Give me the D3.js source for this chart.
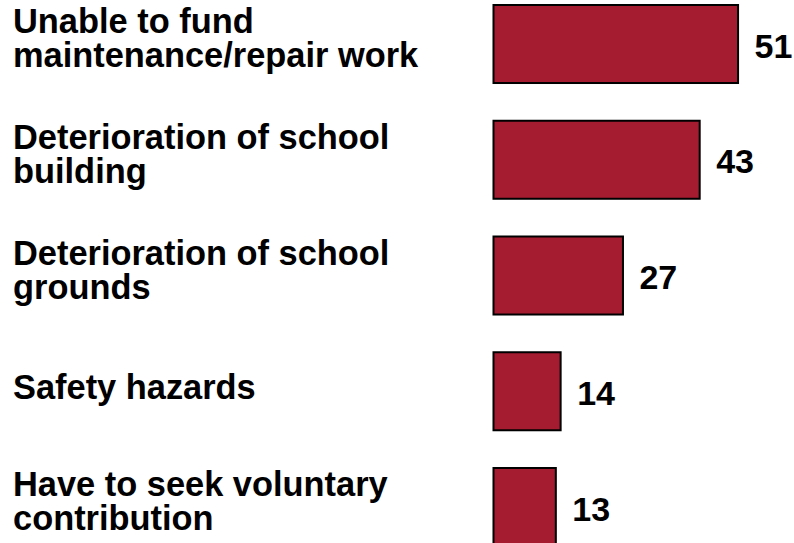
<!DOCTYPE html>
<html>
<head>
<meta charset="utf-8">
<script src="https://cdn.jsdelivr.net/npm/d3@7"></script>
<style>
  html, body { margin: 0; padding: 0; background: #fff; }
  svg { display: block; }
  text { font-family: "Liberation Sans", Arial, sans-serif; font-weight: bold; fill: #000; }
</style>
</head>
<body>
<script>
const categories = [
  ["Unable to fund", "maintenance/repair work"],
  ["Deterioration of school", "building"],
  ["Deterioration of school", "grounds"],
  ["Safety hazards"],
  ["Have to seek voluntary", "contribution"]
];
const values = [51, 43, 27, 14, 13];

const W = 794, H = 543;
const svg = d3.select("body").append("svg").attr("width", W).attr("height", H);

const keys = categories.map((c, i) => i);
const step = 115.75;
const y = d3.scaleBand().domain(keys)
  .range([5 - step * 0.163, 5 - step * 0.163 + step * 5])
  .paddingInner(0.326).paddingOuter(0.163);

const x = d3.scaleLinear().domain([0, 60]).range([493.5, 781.2]);

const g = svg.append("g");

g.selectAll("rect.bar").data(values).join("rect")
  .attr("class", "bar")
  .attr("x", x(0))
  .attr("y", (d, i) => y(i))
  .attr("width", d => x(d) - x(0))
  .attr("height", y.bandwidth())
  .attr("fill", "#a51b30")
  .attr("stroke", "#000")
  .attr("stroke-width", 2);

g.selectAll("text.val").data(values).join("text")
  .attr("class", "val")
  .attr("x", d => x(d) + 16.5)
  .attr("y", (d, i) => y(i) + y.bandwidth() / 2 + 13.5)
  .attr("font-size", 34)
  .text(d => d);

// label lines as separate text elements
const labelLines = [];
categories.forEach((lines, i) => {
  const c = y(i) + y.bandwidth() / 2;
  if (lines.length === 1) {
    labelLines.push({ t: lines[0], y: c + 8 });
  } else {
    labelLines.push({ t: lines[0], y: c - 11 });
    labelLines.push({ t: lines[1], y: c + 23 });
  }
});

g.selectAll("text.lab").data(labelLines).join("text")
  .attr("class", "lab")
  .attr("x", 13)
  .attr("y", d => d.y)
  .attr("font-size", 34.4)
  .text(d => d.t);
</script>
</body>
</html>
